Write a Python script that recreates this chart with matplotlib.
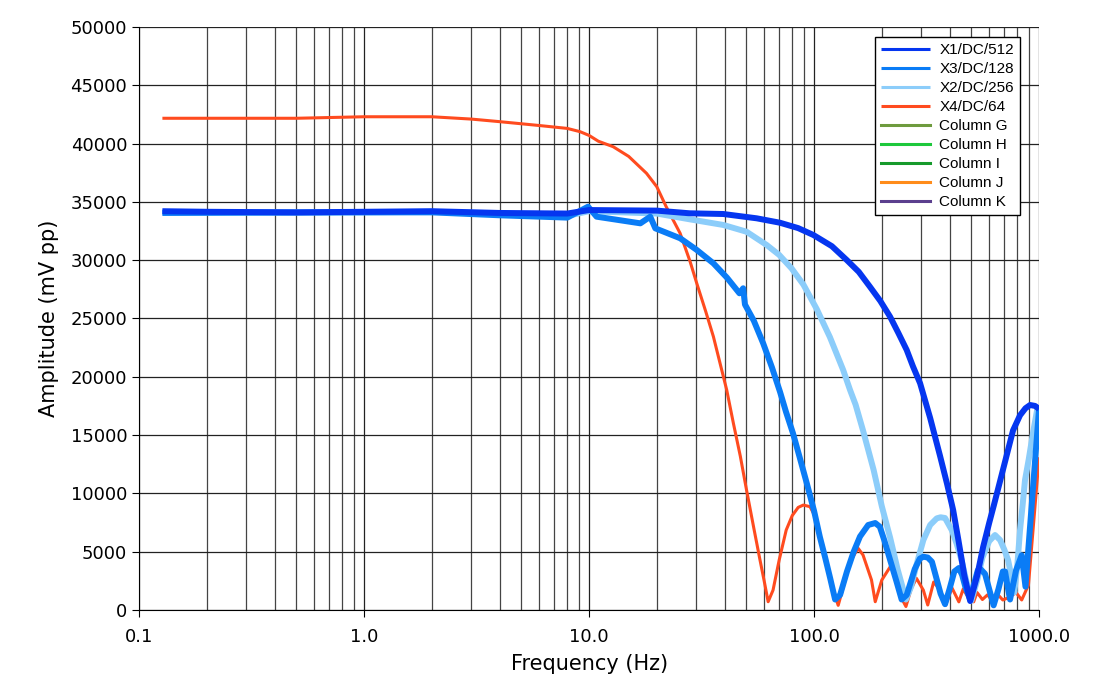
import numpy as np
import matplotlib
matplotlib.use('Agg')
import matplotlib.pyplot as plt
from matplotlib.ticker import FixedLocator, NullFormatter

# X1/DC/512
x1_f = [0.127, 0.2, 0.5, 1, 2, 4, 8, 10, 20, 28, 39.5, 55.6, 70.6, 85, 99.3, 120, 139.6,
        158, 177, 197, 217.7, 237, 258, 275, 296, 328, 363, 390, 415, 438, 465, 494,
        530, 564, 600, 628, 671, 743, 766, 823, 870, 912, 960, 1000]
x1_v = [34200, 34150, 34100, 34150, 34200, 34050, 34000, 34300, 34250, 34020, 33960, 33590,
        33210, 32750, 32160, 31200, 30020, 29000, 27730, 26500, 25150, 23750, 22300, 20900,
        19440, 16470, 13210, 10810, 8580, 6000, 3000, 770,
        2900, 5400, 7460, 8900, 11060, 14400, 15400, 16700, 17300, 17580, 17500, 17240]

# X3/DC/128
x3_f = [0.127, 1, 2, 4, 8, 9.9, 10.8, 16.9, 18.7, 19.7, 25.4, 30, 35.7, 41, 46.6, 48.4,
        49.3, 54, 59.4, 65, 70.6, 75, 80.6, 86, 92.8, 100, 106, 112, 118, 124, 130.5, 140,
        150, 160, 174, 187, 196, 205, 220, 232, 245, 258, 270, 280, 295, 306, 320, 334, 350,
        365, 382, 400, 420, 440, 455, 470, 494, 510, 534, 550, 575, 600, 628, 660, 690, 706,
        725, 743, 790, 837, 870, 1000]
x3_v = [34050, 34100, 34100, 33850, 33650, 34590, 33730, 33160, 33730, 32730, 31880, 30900,
        29730, 28500, 27160, 27590, 26200, 24800, 22870, 20800, 18700, 17000, 15150, 13200,
        10870, 8500, 6300, 4500, 2700, 900, 1290, 3300, 5000, 6300, 7290, 7460, 7140, 6000,
        4000, 2500, 900, 1290, 2500, 3500, 4400, 4570, 4500, 4140, 2700, 1400, 500, 1800,
        3300, 3600, 3000, 2000, 900, 2000, 3400, 3500, 3100, 1800, 400, 1800, 3300, 3300,
        2000, 900, 3400, 4700, 2000, 17300]

# X2/DC/256
x2_f = [0.127, 1, 2, 4, 8, 10, 20, 28.1, 39.5, 50.1, 61.6, 70, 79.4, 89.7, 102.8, 117.6,
        134.7, 144.5, 153, 165, 184, 200, 218, 235, 256, 270, 285, 306, 328, 351, 365, 382,
        409, 430, 452, 475, 500, 530, 560, 600, 637, 671, 700, 728, 755, 776, 800, 823, 845,
        866, 900, 940, 980, 1000]
x2_v = [34100, 34100, 34150, 34000, 33800, 34200, 34000, 33500, 33020, 32440, 31300, 30450,
        29300, 27900, 25800, 23400, 20580, 18870, 17600, 15400, 12000, 8900, 6170, 3500, 900,
        2000, 3860, 6000, 7290, 7860, 7950, 7890, 6860, 5700, 4290, 2500, 800, 2500, 4500,
        5900, 6430, 6000, 5200, 4290, 2800, 1500, 3800, 6860, 9000, 11150, 12950, 15200,
        17150, 17300]

# X4/DC/64
x4_f = [0.127, 0.5, 1, 2, 3, 4, 6, 8, 9.12, 10, 11, 12.8, 15, 18, 20, 22, 25.4, 28.1, 30.1,
        33, 35.7, 40.9, 43.8, 47, 50.1, 54, 57.5, 60, 62.5, 65.7, 70, 75.2, 80, 85, 89.6,
        95.9, 100, 105, 110, 120, 128, 135, 145, 157, 165, 180, 187, 200, 218, 230, 245, 256,
        270, 285, 306, 320, 340, 360, 384, 410, 440, 460, 490, 512, 530, 560, 590, 620, 657,
        690, 740, 790, 837, 897, 1000]
x4_v = [42170, 42170, 42300, 42300, 42100, 41880, 41550, 41300, 41020, 40700, 40200, 39730,
        38900, 37450, 36300, 34600, 32300, 29900, 28020, 25600, 23440, 18870, 16010, 13200,
        10290, 7000, 4290, 2500, 710, 1700, 4300, 6860, 8100, 8800, 9000, 8860, 8200, 6900,
        5000, 2000, 400, 2000, 4200, 5290, 4720, 2570, 710, 2570, 3710, 3200, 1000, 300,
        1800, 2720, 1700, 430, 2400, 1800, 400, 1900, 700, 1800, 900, 700, 1500, 900, 1300,
        800, 1300, 860, 1100, 1500, 860, 2140, 13100]

empty_labels = ["Column G", "Column H", "Column I", "Column J", "Column K"]
empty_colors = ["#6e9b3e", "#1ec83c", "#169a2c", "#ff8c1a", "#5b3f8e"]

fig = plt.figure(figsize=(10.94, 6.95), dpi=100)
ax = fig.add_axes([0.1271, 0.1223, 0.8227, 0.8389])

style = dict(solid_joinstyle='round', solid_capstyle='butt')
l1, = ax.plot(x1_f, x1_v, color="#0536f0", lw=4.3, zorder=6, label="X1/DC/512", **style)
l3, = ax.plot(x3_f, x3_v, color="#0a7cf6", lw=4.3, zorder=5, label="X3/DC/128", **style)
l2, = ax.plot(x2_f, x2_v, color="#8ccdfa", lw=4.3, zorder=4, label="X2/DC/256", **style)
l4, = ax.plot(x4_f, x4_v, color="#ff4b1f", lw=2.2, zorder=3, label="X4/DC/64", **style)
handles = [l1, l3, l2, l4]
for lab, c in zip(empty_labels, empty_colors):
    h, = ax.plot([], [], color=c, lw=2.2, label=lab)
    handles.append(h)

ax.set_xscale('log')
ax.set_xlim(0.1, 1000)
ax.set_ylim(0, 50000)
ax.set_yticks(np.arange(0, 50001, 5000))
ax.set_yticklabels([str(v) for v in range(0, 50001, 5000)])
ax.xaxis.set_major_locator(FixedLocator([0.1, 1, 10, 100, 1000]))
ax.set_xticklabels(["0.1", "1.0", "10.0", "100.0", "1000.0"])
minors = [m * 10.0 ** e for e in range(-1, 3) for m in range(2, 10)]
ax.xaxis.set_minor_locator(FixedLocator(minors))
ax.xaxis.set_minor_formatter(NullFormatter())

ax.grid(True, which='major', axis='both', color='#222222', lw=0.9, zorder=1)
ax.grid(True, which='minor', axis='x', color='#444444', lw=0.9, zorder=1)
ax.set_axisbelow(True)

for s in ['top', 'right']:
    ax.spines[s].set_visible(False)
ax.tick_params(axis='both', which='major', labelsize=13, length=5, direction='out')
ax.tick_params(axis='x', which='minor', length=0)
ax.tick_params(axis='x', pad=8)

ax.set_xlabel("Frequency (Hz)", fontsize=15, labelpad=6)
ax.set_ylabel("Amplitude (mV pp)", fontsize=15, labelpad=8)

leg = ax.legend(handles=handles, loc='upper right', bbox_to_anchor=(0.979, 0.983),
                borderaxespad=0, fancybox=False, framealpha=1, edgecolor='black',
                prop={'family': 'Liberation Sans', 'size': 11}, labelspacing=0.33,
                handlelength=3.2, handletextpad=0.6, borderpad=0.4)
leg.get_frame().set_linewidth(1.0)
for line in leg.get_lines():
    line.set_linewidth(2.2)
leg.set_zorder(10)

fig.savefig("out.png", dpi=100)
